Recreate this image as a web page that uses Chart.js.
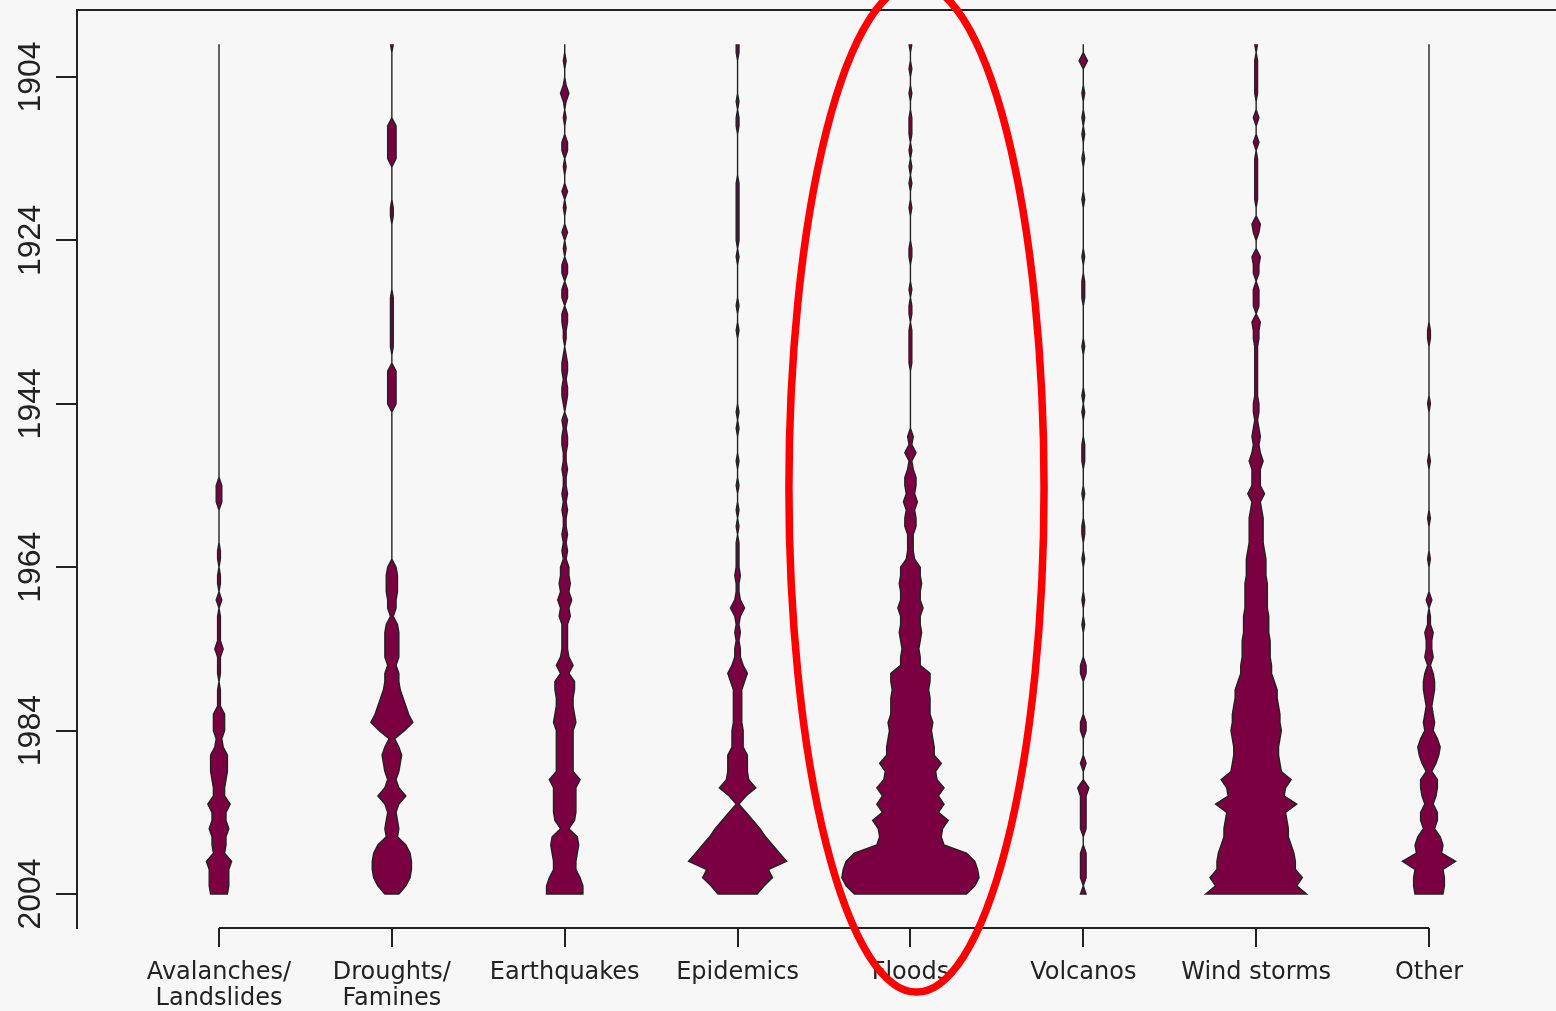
<!DOCTYPE html>
<html>
<head>
<meta charset="utf-8">
<title>Disasters by type, 1900-2004</title>
<script src="https://cdn.jsdelivr.net/npm/chart.js@4.4.1/dist/chart.umd.min.js"></script>
<style>
  html, body { margin: 0; padding: 0; background: #f7f7f7; }
</style>
</head>
<body>
<canvas id="chart" width="1556" height="1011"></canvas>
<script>
// category labels (multi-line like the original axis)
const categories = [
  ['Avalanches/', 'Landslides'],
  ['Droughts/', 'Famines'],
  ['Earthquakes'],
  ['Epidemics'],
  ['Floods'],
  ['Volcanos'],
  ['Wind storms'],
  ['Other'],
];

const FIRST_YEAR = 1900; // each series below runs 1900..2004, one value per year
const yearTicks = [1904, 1924, 1944, 1964, 1984, 2004];

// events per year
const avalanches = [
  0, 0, 0, 0, 0, 0, 0, 0, 0, 0,
  0, 0, 0, 0, 0, 0, 0, 0, 0, 0,
  0, 0, 0, 0, 0, 0, 0, 0, 0, 0,
  0, 0, 0, 0, 0, 0, 0, 0, 0, 0,
  0, 0, 0, 0, 0, 0, 0, 0, 0, 0,
  0, 0, 0, 0, 2, 2, 2, 0, 0, 0,
  0, 0, 1, 1, 0, 1, 1, 0, 2, 0,
  1, 1, 1, 1, 3, 1, 1, 1, 0, 1,
  1, 1, 4, 4, 4, 2, 3, 6, 6, 6,
  5, 4, 4, 8, 5, 5, 7, 5, 5, 4,
  9, 7, 7, 7, 6,
];
const droughts = [
  1, 0, 0, 0, 0, 0, 0, 0, 0, 0,
  3, 3, 3, 3, 3, 0, 0, 0, 0, 0,
  1, 1, 0, 0, 0, 0, 0, 0, 0, 0,
  0, 1, 1, 1, 1, 1, 1, 1, 0, 0,
  3, 3, 3, 3, 3, 0, 0, 0, 0, 0,
  0, 0, 0, 0, 0, 0, 0, 0, 0, 0,
  0, 0, 0, 0, 3, 4, 4, 4, 3, 3,
  1, 4, 5, 5, 5, 5, 3, 5, 5, 6,
  8, 10, 12, 15, 9, 2, 5, 7, 6, 5,
  3, 5, 10, 5, 3, 4, 5, 4, 10, 13,
  14, 14, 13, 10, 5,
];
const earthquakes = [
  0, 0, 1, 0, 0, 1, 3, 1, 0, 1,
  0, 0, 2, 2, 0, 1, 0, 0, 2, 0,
  1, 0, 0, 2, 0, 1, 0, 2, 2, 0,
  2, 2, 0, 2, 2, 1, 1, 0, 1, 2,
  2, 1, 2, 2, 1, 0, 2, 1, 2, 2,
  1, 1, 2, 1, 1, 2, 1, 2, 1, 1,
  2, 1, 2, 1, 3, 3, 4, 3, 5, 3,
  4, 2, 2, 2, 2, 3, 6, 3, 7, 7,
  6, 6, 7, 8, 6, 6, 6, 6, 6, 6,
  11, 8, 8, 8, 8, 7, 3, 9, 10, 9,
  8, 8, 11, 13, 13,
];
const epidemics = [
  1, 1, 0, 0, 0, 0, 0, 1, 0, 1,
  1, 0, 0, 0, 0, 0, 0, 1, 1, 1,
  1, 1, 1, 1, 1, 0, 1, 0, 0, 0,
  0, 0, 1, 0, 0, 1, 0, 0, 0, 0,
  0, 0, 0, 0, 0, 1, 0, 1, 0, 0,
  0, 1, 0, 0, 1, 0, 0, 1, 0, 1,
  0, 1, 1, 1, 1, 2, 1, 1, 2, 5,
  2, 1, 2, 1, 2, 2, 4, 7, 5, 3,
  3, 3, 3, 3, 4, 4, 4, 7, 7, 7,
  8, 13, 6, 1, 6, 11, 16, 20, 25, 30,
  35, 22, 25, 19, 14,
];
const floods = [
  1, 0, 0, 1, 0, 0, 1, 0, 0, 1,
  1, 1, 0, 1, 0, 1, 0, 1, 0, 0,
  1, 0, 0, 0, 0, 1, 1, 0, 0, 0,
  1, 0, 1, 1, 0, 1, 1, 1, 1, 1,
  0, 0, 0, 0, 0, 0, 0, 0, 2, 1,
  4, 1, 2, 4, 4, 3, 5, 3, 4, 4,
  2, 2, 2, 3, 7, 7, 8, 7, 7, 9,
  7, 7, 8, 7, 6, 7, 7, 14, 14, 13,
  14, 14, 14, 16, 15, 16, 17, 17, 22, 18,
  19, 24, 20, 24, 20, 27, 23, 22, 24, 40,
  46, 48, 49, 46, 40,
];
const volcanos = [
  0, 0, 3, 0, 0, 0, 1, 0, 0, 1,
  0, 1, 0, 0, 1, 0, 0, 0, 0, 1,
  0, 0, 0, 0, 0, 0, 1, 0, 0, 1,
  1, 1, 0, 0, 0, 0, 0, 1, 0, 0,
  0, 0, 0, 1, 0, 1, 0, 0, 0, 1,
  1, 1, 0, 0, 0, 1, 0, 0, 0, 1,
  1, 0, 0, 1, 0, 0, 0, 0, 1, 0,
  0, 1, 0, 0, 0, 0, 2, 2, 0, 0,
  0, 0, 0, 2, 2, 0, 0, 0, 2, 0,
  0, 4, 2, 2, 2, 2, 2, 0, 0, 2,
  2, 2, 2, 0, 2,
];
const windStorms = [
  1, 0, 1, 1, 1, 1, 1, 0, 0, 2,
  0, 0, 2, 0, 1, 1, 1, 1, 1, 1,
  0, 0, 3, 2, 0, 0, 3, 2, 2, 0,
  2, 2, 2, 0, 3, 2, 2, 1, 1, 1,
  1, 1, 1, 1, 2, 2, 1, 2, 3, 2,
  3, 5, 3, 3, 3, 6, 3, 4, 5, 5,
  5, 5, 6, 7, 7, 7, 8, 8, 8, 8,
  9, 9, 9, 10, 10, 10, 11, 11, 13, 15,
  15, 16, 17, 17, 18, 17, 16, 16, 17, 18,
  25, 21, 20, 29, 21, 22, 23, 23, 25, 27,
  28, 28, 33, 29, 36,
];
const other = [
  0, 0, 0, 0, 0, 0, 0, 0, 0, 0,
  0, 0, 0, 0, 0, 0, 0, 0, 0, 0,
  0, 0, 0, 0, 0, 0, 0, 0, 0, 0,
  0, 0, 0, 0, 0, 1, 1, 0, 0, 0,
  0, 0, 0, 0, 1, 0, 0, 0, 0, 0,
  0, 1, 0, 0, 0, 0, 0, 0, 1, 0,
  0, 0, 0, 1, 0, 0, 0, 0, 2, 0,
  1, 1, 3, 2, 2, 3, 1, 3, 4, 4,
  3, 2, 3, 4, 3, 6, 8, 7, 5, 2,
  6, 6, 5, 3, 6, 6, 4, 8, 10, 9,
  19, 10, 11, 11, 10,
];

const series = [avalanches, droughts, earthquakes, epidemics, floods, volcanos, windStorms, other];

// half-width of a shape (in x units) for one event
const EVENT_WIDTH = 0.0081;
const FILL = '#7b0041';
const INK = '#222222';

// red ring drawn round the Floods column
const highlight = { x: 5.035, year: 1954.3, halfWidth: 0.738, halfYears: 61.7 };

// right edge going down, left edge coming back up
function outline(values, centre) {
  const right = values.map((v, i) => ({ x: centre + v * EVENT_WIDTH, y: FIRST_YEAR + i }));
  const left = values.map((v, i) => ({ x: centre - v * EVENT_WIDTH, y: FIRST_YEAR + i })).reverse();
  return right.concat(left);
}

const frame = {
  id: 'frame',
  beforeDraw(chart) {
    const ctx = chart.ctx;
    ctx.save();
    ctx.fillStyle = '#f7f7f7';
    ctx.fillRect(0, 0, chart.width, chart.height);
    ctx.restore();
  },
  afterDraw(chart) {
    const { ctx, chartArea, scales } = chart;
    const x = scales.x;
    ctx.save();
    ctx.strokeStyle = INK;
    ctx.lineWidth = 2;
    ctx.beginPath();
    ctx.moveTo(chartArea.left, chartArea.top);
    ctx.lineTo(chartArea.right, chartArea.top);
    // R style axis: line only between first and last tick
    ctx.moveTo(x.getPixelForValue(1), x.top);
    ctx.lineTo(x.getPixelForValue(categories.length), x.top);
    ctx.stroke();

    const y = scales.y;
    const cx = x.getPixelForValue(highlight.x);
    const cy = y.getPixelForValue(highlight.year);
    const rx = x.getPixelForValue(highlight.x + highlight.halfWidth) - cx;
    const ry = Math.abs(y.getPixelForValue(highlight.year + highlight.halfYears) - cy);
    ctx.strokeStyle = '#ff0000';
    ctx.lineWidth = 7.5;
    ctx.beginPath();
    ctx.ellipse(cx, cy, rx, ry, 0, 0, Math.PI * 2);
    ctx.stroke();
    ctx.restore();
  },
};

const ctx = document.getElementById('chart').getContext('2d');
new Chart(ctx, {
  type: 'scatter',
  data: {
    datasets: series.map((values, i) => ({
      label: categories[i].join(' '),
      data: outline(values, i + 1),
      showLine: true,
      fill: 'shape',
      backgroundColor: FILL,
      borderColor: INK,
      borderWidth: 1.4,
      pointRadius: 0,
      pointHoverRadius: 0,
      tension: 0,
    })),
  },
  options: {
    responsive: false,
    animation: false,
    events: [],
    layout: { padding: { top: 10, left: 0, right: 0, bottom: 0 } },
    plugins: {
      legend: { display: false },
      tooltip: { enabled: false },
    },
    scales: {
      x: {
        type: 'linear',
        min: 0.1785,
        max: 8.7347,
        afterBuildTicks: scale => { scale.ticks = categories.map((c, i) => ({ value: i + 1 })); },
        afterFit: scale => { scale.height = 83; },
        border: { display: false },
        grid: { drawOnChartArea: false, drawTicks: true, tickLength: 19, color: INK, lineWidth: 2 },
        ticks: {
          autoSkip: false,
          maxRotation: 0,
          padding: 13,
          color: '#222',
          font: { family: '"DejaVu Sans", sans-serif', size: 24, lineHeight: 1.08 },
          callback: value => categories[value - 1],
        },
      },
      y: {
        type: 'linear',
        reverse: true,
        min: 1895.8,
        max: 2008.16,
        afterBuildTicks: scale => { scale.ticks = yearTicks.map(v => ({ value: v })); },
        afterFit: scale => { scale.width = 77; },
        border: { display: true, color: INK, width: 2 },
        grid: { drawOnChartArea: false, drawTicks: true, tickLength: 21, color: INK, lineWidth: 2 },
        ticks: {
          minRotation: 90,
          maxRotation: 90,
          crossAlign: 'center',
          padding: -11,
          color: '#222',
          font: { family: 'Arial, "Liberation Sans", sans-serif', size: 32, lineHeight: 0.5 },
          callback: value => String(value),
        },
      },
    },
  },
  plugins: [frame],
});
</script>
</body>
</html>
